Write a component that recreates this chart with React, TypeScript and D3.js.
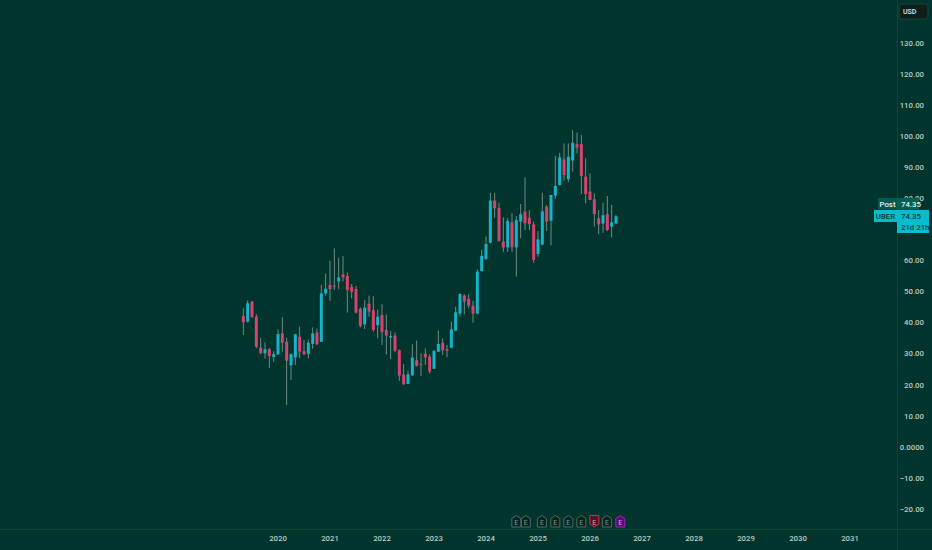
import React from "react";
import * as d3 from "d3";

const W = 932, H = 550;
const BG = "#01342c";
const UP = "#14b4cb";
const DOWN = "#d9416f";
const WICK = "#8ea8a3";
const TEXT = "#b9cac5";

// months since Jan 2020 of the first candle (May 2019)
const firstMonth = -8;
const opens = [42.2,40.4,46.9,42,32,30.2,31.5,29,29.8,36.6,33.9,26.3,28.9,35.5,30.9,30,33.2,36.9,33.9,49.5,52.2,52,53.4,55.6,55.1,51.6,50.9,44.5,39.5,46.2,44.1,39.3,42.5,37.7,35.3,35.9,31.2,23.4,20.3,23.1,28,26.8,30,29.1,25.2,30.7,33.6,31.5,32,37.5,43,48.8,47.7,45.5,43,56.7,60.6,65.8,79.4,77,66.2,64.3,72.4,64.3,72.6,75.8,73.9,71.7,62.2,65.2,77.4,72.9,81,84.4,92.7,86.3,92.3,97.6,97.6,87.1,82.3,79.8,73.7,72,75,71,72];
const highs = [44.7,47.2,47,42.8,35.2,33.7,31.9,30.9,37.9,41.8,35.2,30.2,36.4,38.8,34.5,34.6,38.5,38.2,52.2,55.9,60,64,61,61.5,56.2,52.5,51.9,45,47.4,48.8,48.6,44.3,46,42.7,37.4,36.9,31.4,26.7,24.6,33.1,34.3,30.2,31.8,29.8,31.2,37.5,35,32.9,40.4,45.2,49.5,49.2,49.2,47.1,57.2,63.5,67.8,81.9,81.9,78.7,74,73.7,75.3,74.4,78.3,86.9,76.3,72.6,69.6,81.9,78,81.2,93.8,94.8,97.8,97.8,102.1,101.3,100.5,93,88.2,81.7,76.4,78.7,80.9,78,74.7];
const lows = [36.1,40.1,41.7,31.8,30,28.4,25.5,27.5,29.7,30.7,13.5,21.6,26.4,28.6,29.6,28.6,31.6,32.9,33.9,48.8,47.1,50.6,50.8,53.3,43.3,47.9,43,38.5,38,42,37.2,35,32.9,29.8,28.3,30.5,21.3,20,20.3,22.9,25.9,22.9,26.4,23.7,25.2,30.7,29.6,28.9,31.8,37.4,42,42.8,44.7,40,42.7,56.5,60.2,65.6,73.9,66.1,62.9,62.9,62.9,54.9,67.2,69.9,69.9,59.4,61.3,65,69.6,65,80,84.2,85.7,85.3,88.7,94.6,81.5,78.5,79.6,71,68.5,69,69.6,67.5,71.8];
const closes = [40.2,46.3,41.8,32.3,30.2,31.5,29.3,29.9,36.4,33.6,27.8,29.9,36.3,30.7,29.9,33.6,36.6,33.1,49.5,51,50.9,51.7,54.6,54.6,50.6,50,43.3,39,44.9,43.6,37.7,42,37.1,35.9,35.8,31,23,20.2,23.4,28.8,26.2,26.6,28.9,24.3,31,33.2,31.2,31,37.9,43.4,49.3,46.8,45.5,43,56.5,61.6,65.4,79.4,76.9,66.4,64.3,72.8,64.3,73.1,75,72.1,71.8,60.3,66.9,75.9,72.6,81.2,84.1,93.3,87.6,93.5,98,96.4,87.3,81.5,79.6,75,71.7,74.7,69.9,72.4,74.35];

const priceTicks = [130,120,110,100,90,80,60,50,40,30,20,10,0,-10,-20];
const yearTicks = [2020,2021,2022,2023,2024,2025,2026,2027,2028,2029,2030,2031];
const earningsMonths = [55,57.2,60.9,64,67,70,73,75.9,79];
const lastPrice = 74.35;

const y = d3.scaleLinear().domain([0, 130]).range([447, 43.5]);
const x = d3.scaleLinear().domain([0, 12]).range([278, 330]);
const fmt = (v: number) => (v === 0 ? "0.0000" : v < 0 ? "\u2212" + Math.abs(v).toFixed(2) : v.toFixed(2));

function EarningsIcon({ cx, kind }: { cx: number; kind: "past" | "red" | "purple" }) {
  const top = 515.5, bottom = 527, hw = 4.5;
  const stroke = kind === "red" ? "#d42a45" : kind === "purple" ? "#a91fc8" : "#4d6c66";
  const fill = kind === "red" ? "#4f1524" : kind === "purple" ? "#560e68" : "#07231f";
  const d = kind === "red"
    ? `M${cx - hw},${top}H${cx + hw}V${bottom - 3}L${cx},${bottom}L${cx - hw},${bottom - 3}Z`
    : `M${cx},${top}L${cx + hw},${top + 3}V${bottom}H${cx - hw}V${top + 3}Z`;
  const color = kind === "past" ? "#7e9791" : kind === "red" ? "#ee9aa4" : "#e0a0f0";
  return (
    <g>
      <path d={d} fill={fill} stroke={stroke} strokeWidth={1} />
      <text x={cx} y={bottom - 2.5} fontSize={7} fill={color} textAnchor="middle" fontFamily="Roboto, sans-serif">E</text>
    </g>
  );
}

export default function App() {
  return (
    <svg width={W} height={H} viewBox={`0 0 ${W} ${H}`}
      style={{ position: "fixed", left: 0, top: 0, display: "block", background: BG }}
      fontFamily="Roboto, sans-serif">
      <rect width={W} height={H} fill={BG} />
      <line x1={897.5} x2={897.5} y1={0} y2={H} stroke="#104238" />
      <line x1={0} x2={W} y1={529.5} y2={529.5} stroke="#104238" />
      {opens.map((o, i) => {
        const cx = x(firstMonth + i);
        const c = closes[i];
        const top = y(Math.max(o, c));
        const bot = y(Math.min(o, c));
        const col = c >= o ? UP : DOWN;
        return (
          <g key={i}>
            <line x1={cx} x2={cx} y1={y(highs[i])} y2={y(lows[i])} stroke={WICK} strokeWidth={0.9} opacity={0.85} />
            <rect x={cx - 1.5} width={3} y={top} height={Math.max(bot - top, 1)} fill={col} />
          </g>
        );
      })}
      {priceTicks.map((t) => (
        <text key={t} x={924} y={y(t) + 2.6} fontSize={7.8} fill={TEXT} textAnchor="end" fontWeight={500}>{fmt(t)}</text>
      ))}
      {yearTicks.map((yr) => (
        <text key={yr} x={x((yr - 2020) * 12)} y={541} fontSize={7.8} fill={TEXT} textAnchor="middle" fontWeight={500}>{yr}</text>
      ))}
      {earningsMonths.map((m, i) => (
        <EarningsIcon key={i} cx={x(m)} kind={i === 6 ? "red" : i === 8 ? "purple" : "past"} />
      ))}
      <rect x={899} y={4} width={29} height={15} rx={2} fill="#0d1f1b" stroke="#23403a" />
      <text x={903} y={14} fontSize={7} fill="#dfe8e5" fontWeight={500}>USD</text>
      <rect x={878} y={198} width={19} height={11.5} fill="#04584d" />
      <rect x={897} y={198} width={22} height={11.5} fill="#015f53" />
      <text x={887.5} y={206.8} fontSize={7.8} fill="#e3f0ed" textAnchor="middle" fontWeight={500}>Post</text>
      <text x={901} y={206.8} fontSize={7.8} fill="#e3f0ed" fontWeight={500}>{lastPrice.toFixed(2)}</text>
      <rect x={874} y={210} width={23} height={12} fill="#06bccd" />
      <rect x={897} y={210} width={32} height={23} fill="#06bccd" />
      <text x={885.5} y={219} fontSize={7.8} fill="#063a40" textAnchor="middle" fontWeight={500}>UBER</text>
      <text x={901} y={219} fontSize={7.8} fill="#063a40" fontWeight={500}>{lastPrice.toFixed(2)}</text>
      <text x={901} y={229.5} fontSize={7.8} fill="#063a40" fontWeight={500}>21d 21h</text>
    </svg>
  );
}
